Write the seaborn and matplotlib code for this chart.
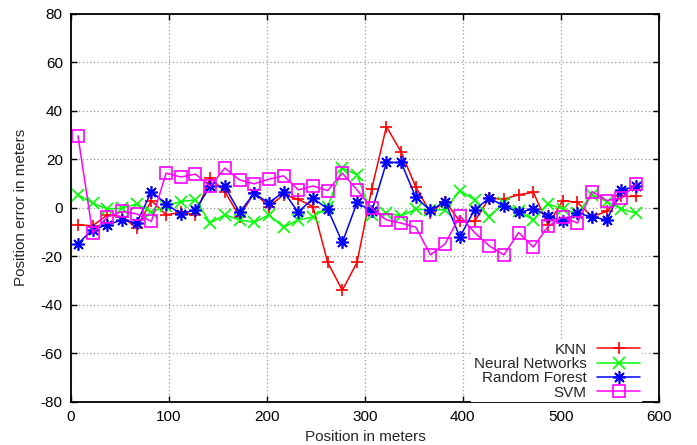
import numpy as np
import pandas as pd
import matplotlib
matplotlib.use("Agg")
import matplotlib.pyplot as plt
import seaborn as sns

# Messpositionen (alle 15 m)
positionen = [7, 22, 37, 52, 67, 82, 97, 112, 127, 142, 157, 172, 187, 202,
              217, 232, 247, 262, 277, 292, 307, 322, 337, 352, 367, 382, 397,
              412, 427, 442, 457, 472, 487, 502, 517, 532, 547, 562, 577]

knn = [-7, -7.4, -2.9, -3.6, -8.4, 3, -2.9, -1.9, -2.9, 12.4, 6.7, -3.6, 6.2,
       0.5, 5.4, 3.5, 0.5, -22.5, -34, -22.5, 7.8, 33.5, 23, 8.5, -2, 2.6,
       -5.6, -5.6, 4, 3.6, 5.4, 6.4, -7, 3, 2.2, -3.6, -1.5, 4.7, 4.7]

neural = [5.4, 1.9, -0.5, -0.1, 1.6, -1.9, 0.8, 2.6, 3.3, -6.3, -2.9, -5, -6,
          -2.9, -8, -5, -3.8, 0.5, 16.4, 13.6, -2.9, -2.2, -3.3, -0.6, -0.8,
          -0.8, 7.1, 3.3, -3.6, 1.9, -1.5, -5, 1.6, -0.5, -2.2, 5.4, 2.6,
          -0.5, -2.2]

forest = [-14.8, -9, -7, -5, -6.3, 6.7, 1.6, -2.5, -0.8, 8.8, 8.8, -1.9, 6,
          1.9, 6.7, -1.9, 4, -0.5, -14.3, 2.2, -1.5, 18.7, 18.7, 4.3, -1.1,
          2.6, -12, -0.8, 4, 0.8, -1.9, -0.5, -3.3, -5.6, -2.2, -3.8, -5, 7.4,
          8.8]

svm = [29.7, -10.4, -3.8, -1.5, -2.5, -5.6, 14.3, 12.7, 13.9, 8.8, 16.4, 11.5,
       9.9, 11.8, 13.2, 7.4, 9, 7.1, 14.3, 7.4, -0.1, -5, -6.3, -8, -19.4,
       -14.8, -3.3, -10.2, -15.7, -19.4, -10.2, -16.2, -7.7, -3.6, -6.3, 6.7,
       3, 4, 9.9]

serien = [
    ("KNN", knn, "#ff0000", "+", 9),
    ("Neural Networks", neural, "#00ff00", "x", 8),
    ("Random Forest", forest, "#0000ff", (8, 2, 0), 9),
    ("SVM", svm, "#ff00ff", "s", 9),
]

sns.set_style("ticks")
plt.rcParams["font.family"] = ["Liberation Sans", "DejaVu Sans"]
plt.rcParams["font.size"] = 11
plt.rcParams["axes.unicode_minus"] = False

fig, ax = plt.subplots(figsize=(6.97, 4.45), dpi=100)
fig.subplots_adjust(left=0.102, right=0.945, top=0.969, bottom=0.097)

for name, werte, farbe, marker, ms in serien:
    sns.lineplot(x=positionen, y=werte, ax=ax, label=name, color=farbe,
                 marker=marker, markersize=ms, mfc="none", mec=farbe, mew=1.2,
                 lw=1.1, errorbar=None)

ax.set_xlim(0, 600)
ax.set_ylim(-80, 80)
ax.set_xticks(range(0, 601, 100))
ax.set_yticks(range(-80, 81, 20))
ax.set_xlabel("Position in meters", fontsize=11, labelpad=4)
ax.set_ylabel("Position error in meters", fontsize=11, labelpad=9)
ax.tick_params(direction="in", top=True, right=True, length=4, width=1,
               labelsize=11, colors="black", pad=6)
for s in ax.spines.values():
    s.set_linewidth(1.3)
    s.set_color("black")

ax.grid(True, color="#9a9a9a", linestyle=(0, (1, 2)), linewidth=0.9)
ax.set_axisbelow(True)

# Legende wie bei gnuplot: Text rechtsbuendig, Linie rechts daneben
leg = ax.legend(loc="lower right", bbox_to_anchor=(0.972, 0.0),
                markerfirst=False, frameon=True,
                framealpha=1, facecolor="white", edgecolor="none",
                handlelength=2.8, handletextpad=0.7, labelspacing=0.02,
                borderaxespad=0.0, borderpad=0.15, fontsize=11, fancybox=False)

plt.savefig("out.png", dpi=100)
